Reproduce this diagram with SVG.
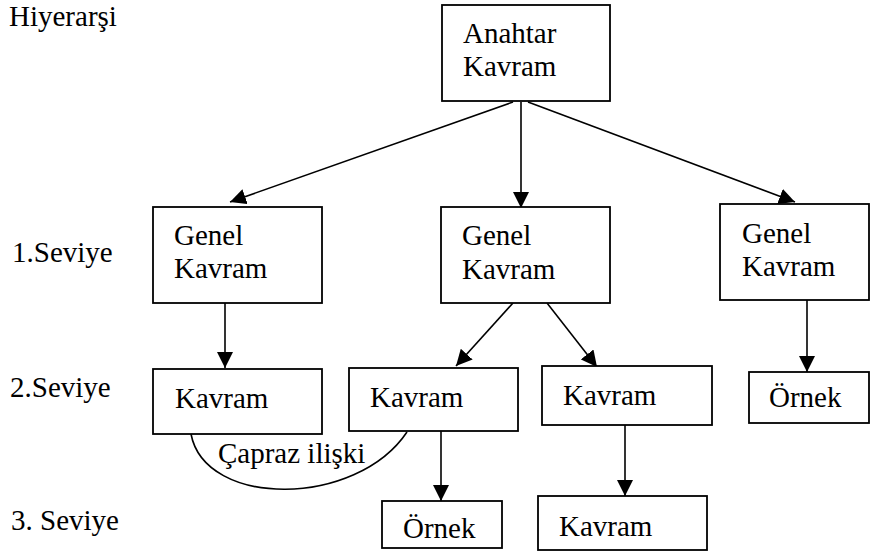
<svg xmlns="http://www.w3.org/2000/svg" width="878" height="556" viewBox="0 0 878 556">
<style>
text{font-family:"Liberation Serif","Times New Roman",serif;font-size:29px;fill:#000}
rect{fill:#fff;stroke:#000;stroke-width:1.8}
.c line,.c path{stroke:#000;stroke-width:1.6;fill:none}
</style>
<defs>
<marker id="ah" markerUnits="userSpaceOnUse" markerWidth="18" markerHeight="16" refX="16" refY="8" orient="auto" viewBox="0 0 18 16">
<path d="M0,0 L16,8 L0,16 z" fill="#000"/>
</marker>
</defs>
<rect x="0" y="0" width="878" height="556" style="fill:#fff;stroke:none"/>
<g id="labels">
<text x="9" y="26">Hiyerarşi</text>
<text x="12" y="262">1.Seviye</text>
<text x="10" y="397">2.Seviye</text>
<text x="11" y="530">3. Seviye</text>
</g>
<g class="c" id="connectors">
<line x1="513" y1="102" x2="230" y2="202" marker-end="url(#ah)"/>
<line x1="521" y1="102" x2="521" y2="208" marker-end="url(#ah)"/>
<line x1="528" y1="102" x2="795" y2="202" marker-end="url(#ah)"/>
<line x1="225" y1="303" x2="225" y2="368" marker-end="url(#ah)"/>
<line x1="513" y1="303" x2="456" y2="366" marker-end="url(#ah)"/>
<line x1="547" y1="303" x2="597" y2="367" marker-end="url(#ah)"/>
<line x1="807" y1="300" x2="807" y2="372" marker-end="url(#ah)"/>
<line x1="441" y1="431" x2="441" y2="501" marker-end="url(#ah)"/>
<line x1="625" y1="425" x2="625" y2="496" marker-end="url(#ah)"/>
<path d="M191,434 C205,508 356,508 407,432"/>
<text x="218" y="463">Çapraz ilişki</text>
</g>
<g id="anahtar"><rect x="442" y="5" width="168" height="96"/><text x="463" y="43">Anahtar</text><text x="463" y="76">Kavram</text></g>
<g id="genel1"><rect x="153" y="207" width="169" height="96"/><text x="174" y="245">Genel</text><text x="174" y="278">Kavram</text></g>
<g id="genel2"><rect x="441" y="207" width="169" height="96"/><text x="462" y="245">Genel</text><text x="462" y="279">Kavram</text></g>
<g id="genel3"><rect x="720" y="204" width="149" height="96"/><text x="742" y="243">Genel</text><text x="742" y="276">Kavram</text></g>
<g id="kavram1"><rect x="153" y="369" width="169" height="65"/><text x="175" y="408">Kavram</text></g>
<g id="kavram2"><rect x="349" y="368" width="169" height="63"/><text x="370" y="407">Kavram</text></g>
<g id="kavram3"><rect x="542" y="366" width="170" height="59"/><text x="563" y="405">Kavram</text></g>
<g id="ornek1"><rect x="749" y="372" width="120" height="51"/><text x="769" y="407">Örnek</text></g>
<g id="ornek2"><rect x="382" y="501" width="120" height="47"/><text x="403" y="538">Örnek</text></g>
<g id="kavram4"><rect x="538" y="496" width="169" height="54"/><text x="559" y="536">Kavram</text></g>
</svg>
